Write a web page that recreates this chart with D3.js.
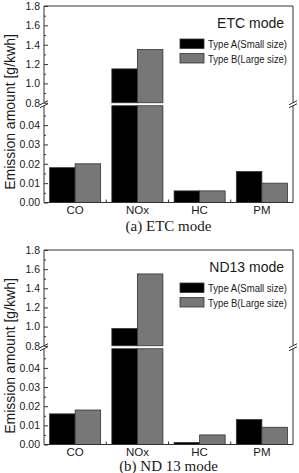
<!DOCTYPE html>
<html>
<head>
  <script src="https://d3js.org/d3.v7.min.js"></script>
  <style>
    body { margin: 0; background: #fff; }
    .tick text { font-family: "Liberation Sans", Arial, sans-serif; font-size: 10.5px; fill: #1a1a1a; }
    .lbl { font-family: "Liberation Sans", Arial, sans-serif; fill: #1a1a1a; }
    .cap { font-family: "Liberation Serif", "Times New Roman", serif; fill: #1a1a1a; }
  </style>
</head>
<body>
  <div id="chart"></div>
  <script>

    // data
    let categories = ["CO", "NOx", "HC", "PM"];
    let seriesNames = ["Type A(Small size)", "Type B(Large size)"];
    let seriesColors = ["#000000", "#777777"];
    let etcA = [0.018, 1.15, 0.006, 0.016];
    let etcB = [0.020, 1.35, 0.006, 0.010];
    let ndA = [0.016, 0.98, 0.001, 0.013];
    let ndB = [0.018, 1.55, 0.005, 0.009];
    let upperTicks = [0.8, 1.0, 1.2, 1.4, 1.6, 1.8];
    let upperMinor = [0.9, 1.1, 1.3, 1.5, 1.7];
    let lowerTicks = [0.00, 0.01, 0.02, 0.03, 0.04];
    let lowerMinor = [0.005, 0.015, 0.025, 0.035, 0.045];

    let W = 299, H = 473;
    let left = 44, right = 293;

    let svg = d3.select("#chart").append("svg")
      .attr("width", W)
      .attr("height", H);

    let xBand = d3.scaleBand()
      .domain(categories)
      .range([left, right])
      .paddingInner(0.18)
      .paddingOuter(0.09);

    let xSub = d3.scaleBand()
      .domain([0, 1])
      .range([0, xBand.bandwidth()]);

    function drawPanel(top, bottom, A, B, title, caption, capY) {
      let g = svg.append("g");
      let gap = 3;
      let half = (bottom - top - gap) / 2;
      let upBottom = top + half;
      let lowTop = upBottom + gap;

      let yUp = d3.scaleLinear().domain([0.8, 1.8]).range([upBottom, top]);
      let yLow = d3.scaleLinear().domain([0, 0.05]).range([bottom, lowTop]);

      let rows = [];
      categories.forEach(function(c, i) {
        rows.push({cat: c, s: 0, v: A[i]});
        rows.push({cat: c, s: 1, v: B[i]});
      });

      // bars, lower part
      g.selectAll("rect.low")
        .data(rows)
        .enter()
        .append("rect")
          .attr("class", "low")
          .attr("x", function(d) { return xBand(d.cat) + xSub(d.s); })
          .attr("y", function(d) { return yLow(Math.min(d.v, 0.05)); })
          .attr("width", xSub.bandwidth())
          .attr("height", function(d) { return bottom - yLow(Math.min(d.v, 0.05)); })
          .attr("fill", function(d) { return seriesColors[d.s]; })
          .attr("stroke", "#333")
          .attr("stroke-width", 0.8);

      // bars, upper part
      g.selectAll("rect.up")
        .data(rows.filter(function(d) { return d.v > 0.8; }))
        .enter()
        .append("rect")
          .attr("class", "up")
          .attr("x", function(d) { return xBand(d.cat) + xSub(d.s); })
          .attr("y", function(d) { return yUp(d.v); })
          .attr("width", xSub.bandwidth())
          .attr("height", function(d) { return upBottom - yUp(d.v); })
          .attr("fill", function(d) { return seriesColors[d.s]; })
          .attr("stroke", "#333")
          .attr("stroke-width", 0.8);

      // axes
      let axUp = g.append("g")
        .attr("transform", `translate(${left},0)`)
        .call(d3.axisLeft(yUp).tickValues(upperTicks).tickFormat(d3.format(".1f"))
          .tickSizeInner(-4).tickSizeOuter(0).tickPadding(4));
      let axUpMinor = g.append("g")
        .attr("transform", `translate(${left},0)`)
        .call(d3.axisLeft(yUp).tickValues(upperMinor).tickFormat("")
          .tickSizeInner(-2).tickSizeOuter(0));
      let axLow = g.append("g")
        .attr("transform", `translate(${left},0)`)
        .call(d3.axisLeft(yLow).tickValues(lowerTicks).tickFormat(d3.format(".2f"))
          .tickSizeInner(-4).tickSizeOuter(0).tickPadding(4));
      let axLowMinor = g.append("g")
        .attr("transform", `translate(${left},0)`)
        .call(d3.axisLeft(yLow).tickValues(lowerMinor).tickFormat("")
          .tickSizeInner(-2).tickSizeOuter(0));
      [axUp, axUpMinor, axLow, axLowMinor].forEach(function(a) {
        a.select(".domain").remove();
        a.selectAll("line").attr("stroke", "#333");
      });

      // category axis
      let xAx = g.append("g")
        .attr("transform", `translate(0,${bottom})`)
        .call(d3.axisBottom(xBand).tickSize(0).tickPadding(3.5));
      xAx.select(".domain").remove();
      xAx.selectAll("text").style("font-size", "11.5px");

      let bounds = categories.slice(1).map(function(c) {
        return xBand(c) - xBand.step() * xBand.paddingInner() / 2;
      });
      g.selectAll("line.xt")
        .data(bounds)
        .enter()
        .append("line")
          .attr("x1", function(d) { return d; })
          .attr("x2", function(d) { return d; })
          .attr("y1", bottom)
          .attr("y2", bottom - 3)
          .attr("stroke", "#333");

      // frame with breaks
      let frame = [
        [left, top, right, top],
        [left, bottom, right, bottom],
        [left, top, left, upBottom],
        [left, lowTop, left, bottom],
        [right, top, right, upBottom],
        [right, lowTop, right, bottom]
      ];
      frame.forEach(function(f) {
        g.append("line")
          .attr("x1", f[0]).attr("y1", f[1])
          .attr("x2", f[2]).attr("y2", f[3])
          .attr("stroke", "#333")
          .attr("stroke-width", 1);
      });
      [left, right].forEach(function(x) {
        [upBottom, lowTop].forEach(function(y) {
          g.append("line")
            .attr("x1", x - 4).attr("y1", y + 2)
            .attr("x2", x + 4).attr("y2", y - 2)
            .attr("stroke", "#333");
        });
      });

      // title and legend
      g.append("text")
        .attr("class", "lbl")
        .attr("x", right - 9)
        .attr("y", top + 22)
        .attr("text-anchor", "end")
        .attr("font-size", 14)
        .text(title);

      seriesNames.forEach(function(n, i) {
        let ly = top + 33 + i * 14.5;
        g.append("rect")
          .attr("x", 180).attr("y", ly)
          .attr("width", 24).attr("height", 9.5)
          .attr("fill", seriesColors[i])
          .attr("stroke", "#333")
          .attr("stroke-width", 0.8);
        g.append("text")
          .attr("class", "lbl")
          .attr("x", 208)
          .attr("y", ly + 9)
          .attr("font-size", 10)
          .attr("textLength", 79)
          .attr("lengthAdjust", "spacingAndGlyphs")
          .text(n);
      });

      // y label
      g.append("text")
        .attr("class", "lbl")
        .attr("transform", "rotate(-90)")
        .attr("x", -(top + 106))
        .attr("y", 15)
        .attr("text-anchor", "middle")
        .attr("font-size", 14)
        .text("Emission amount [g/kwh]");

      // caption
      g.append("text")
        .attr("class", "cap")
        .attr("x", (left + right) / 2)
        .attr("y", capY)
        .attr("text-anchor", "middle")
        .attr("font-size", 15)
        .text(caption);
    }

    drawPanel(6, 202.5, etcA, etcB, "ETC mode", "(a) ETC mode", 231);
    drawPanel(250, 444.5, ndA, ndB, "ND13 mode", "(b) ND 13 mode", 470.5);

  </script>
</body>
</html>
